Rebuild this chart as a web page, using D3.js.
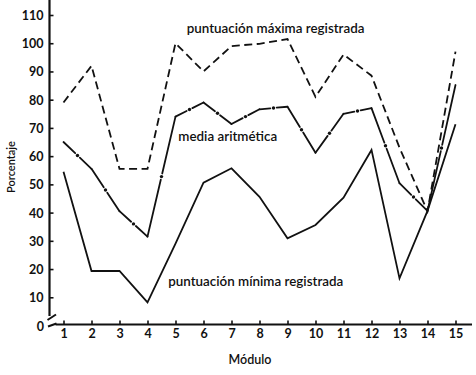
<!DOCTYPE html>
<html>
<head>
<meta charset="utf-8">
<script src="https://cdn.jsdelivr.net/npm/d3@7"></script>
<style>
  body { margin: 0; background: #fff; }
  svg { display: block; }
  text { font-family: Lato, "Open Sans", sans-serif; fill: #111; }
  .tick text, .zero { font-size: 12.5px; font-weight: 700; }
  .note { font-size: 13.4px; font-weight: 600; }
  .axis-title { font-size: 12.5px; font-weight: 600; }
</style>
</head>
<body>
<div id="chart"></div>
<script>
// values (percent)
var modulos = [1, 2, 3, 4, 5, 6, 7, 8, 9, 10, 11, 12, 13, 14, 15];
var maxima = [79, 92, 55.5, 55.5, 100, 90, 99, 99.8, 101.5, 81, 96, 88.5, 63, 40.5, 97];
var media = [65, 55.5, 40.5, 31.5, 74, 79, 71.4, 76.6, 77.5, 61.2, 75, 77, 50.4, 40.6, 85.2];
var minima = [54.5, 19.3, 19.3, 8.2, 29, 50.6, 55.7, 45.6, 30.9, 35.6, 45.3, 62.2, 16.7, 40.6, 71.3];
var yTicks = [10, 20, 30, 40, 50, 60, 70, 80, 90, 100, 110];

var width = 476, height = 375;
var ink = "#111";

var svg = d3.select("#chart").append("svg")
    .attr("width", width)
    .attr("height", height);

var x = d3.scaleLinear().domain([1, 15]).range([63.5, 455.5]);
var y = d3.scaleLinear().domain([0, 110]).range([325.5, 15]);

var axisX = 49.5, axisY = 324.5;

// y axis, ticks pointing inward
var gy = svg.append("g")
    .attr("transform", "translate(" + axisX + ",0)")
    .call(d3.axisLeft(y).tickValues(yTicks).tickSize(-4).tickPadding(6).tickFormat(d3.format("d")));
gy.select(".domain").remove();
gy.selectAll(".tick line").attr("stroke", ink).attr("stroke-width", 1.6);
gy.selectAll(".tick text").attr("dy", "0.36em").attr("fill", ink);

// the zero sits at the broken origin, without a tick
svg.append("text")
    .attr("class", "zero")
    .attr("x", axisX - 5.5)
    .attr("y", y(0) + 5)
    .attr("text-anchor", "end")
    .attr("fill", ink)
    .text("0");

svg.append("line")
    .attr("x1", axisX).attr("x2", axisX)
    .attr("y1", 0).attr("y2", axisY - 8.5)
    .attr("stroke", ink).attr("stroke-width", 2.2);

// axis break marks near the origin
svg.append("line")
    .attr("x1", axisX - 2).attr("y1", axisY - 4.5)
    .attr("x2", axisX + 6.5).attr("y2", axisY - 10)
    .attr("stroke", ink).attr("stroke-width", 2);
svg.append("line")
    .attr("x1", axisX - 1.5).attr("y1", axisY + 2)
    .attr("x2", axisX + 7).attr("y2", axisY - 1)
    .attr("stroke", ink).attr("stroke-width", 2);

// x axis
var gx = svg.append("g")
    .attr("transform", "translate(0," + axisY + ")")
    .call(d3.axisBottom(x).tickValues(modulos).tickSize(-4).tickPadding(5).tickFormat(d3.format("d")));
gx.select(".domain").remove();
gx.selectAll(".tick line").attr("stroke", ink).attr("stroke-width", 1.6);

svg.append("line")
    .attr("x1", axisX + 6).attr("x2", 472)
    .attr("y1", axisY).attr("y2", axisY)
    .attr("stroke", ink).attr("stroke-width", 2.2);

svg.append("text")
    .attr("class", "axis-title")
    .attr("x", 250).attr("y", 364)
    .attr("text-anchor", "middle")
    .text("Módulo");

svg.append("text")
    .attr("class", "axis-title")
    .attr("transform", "translate(15,167) rotate(-90)")
    .attr("text-anchor", "middle")
    .style("font-size", "11px")
    .text("Porcentaje");

var line = d3.line()
    .x(function (d) { return x(d[0]); })
    .y(function (d) { return y(d[1]); });

// highest score: dashed
svg.append("path")
    .datum(d3.zip(modulos, maxima))
    .attr("d", line)
    .attr("fill", "none")
    .attr("stroke", ink)
    .attr("stroke-width", 1.8)
    .attr("stroke-dasharray", "8,4.5");

// lowest score: solid
svg.append("path")
    .datum(d3.zip(modulos, minima))
    .attr("d", line)
    .attr("fill", "none")
    .attr("stroke", ink)
    .attr("stroke-width", 1.8);

// mean: solid with a dot in the middle of each segment
var pts = d3.zip(modulos, media);
var segs = d3.pairs(pts);
var gap = 3.2;

svg.append("g").selectAll("line")
    .data(segs)
    .enter().append("line")
    .attr("x1", function (d) { return x(d[0][0]); })
    .attr("y1", function (d) { return y(d[0][1]); })
    .attr("x2", function (d) { return x(d[1][0]); })
    .attr("y2", function (d) { return y(d[1][1]); })
    .attr("stroke", ink)
    .attr("stroke-width", 1.8)
    .attr("stroke-linecap", "round")
    .attr("stroke-dasharray", function (d) {
        var dx = x(d[1][0]) - x(d[0][0]), dy = y(d[1][1]) - y(d[0][1]);
        var len = Math.sqrt(dx * dx + dy * dy);
        return (len / 2 - gap) + "," + (2 * gap) + "," + len;
    });

svg.append("g").selectAll("circle")
    .data(segs)
    .enter().append("circle")
    .attr("cx", function (d) { return (x(d[0][0]) + x(d[1][0])) / 2; })
    .attr("cy", function (d) { return (y(d[0][1]) + y(d[1][1])) / 2; })
    .attr("r", 1.7)
    .attr("fill", ink);

// annotations, placed in data units
var notes = [
    { text: "puntuación máxima registrada", m: 5.4, v: 103.6 },
    { text: "media aritmética", m: 5.1, v: 65.2 },
    { text: "puntuación mínima registrada", m: 4.74, v: 14.1 }
];
svg.selectAll(".note")
    .data(notes)
    .enter().append("text")
    .attr("class", "note")
    .attr("x", function (d) { return x(d.m); })
    .attr("y", function (d) { return y(d.v); })
    .text(function (d) { return d.text; });
</script>
</body>
</html>
